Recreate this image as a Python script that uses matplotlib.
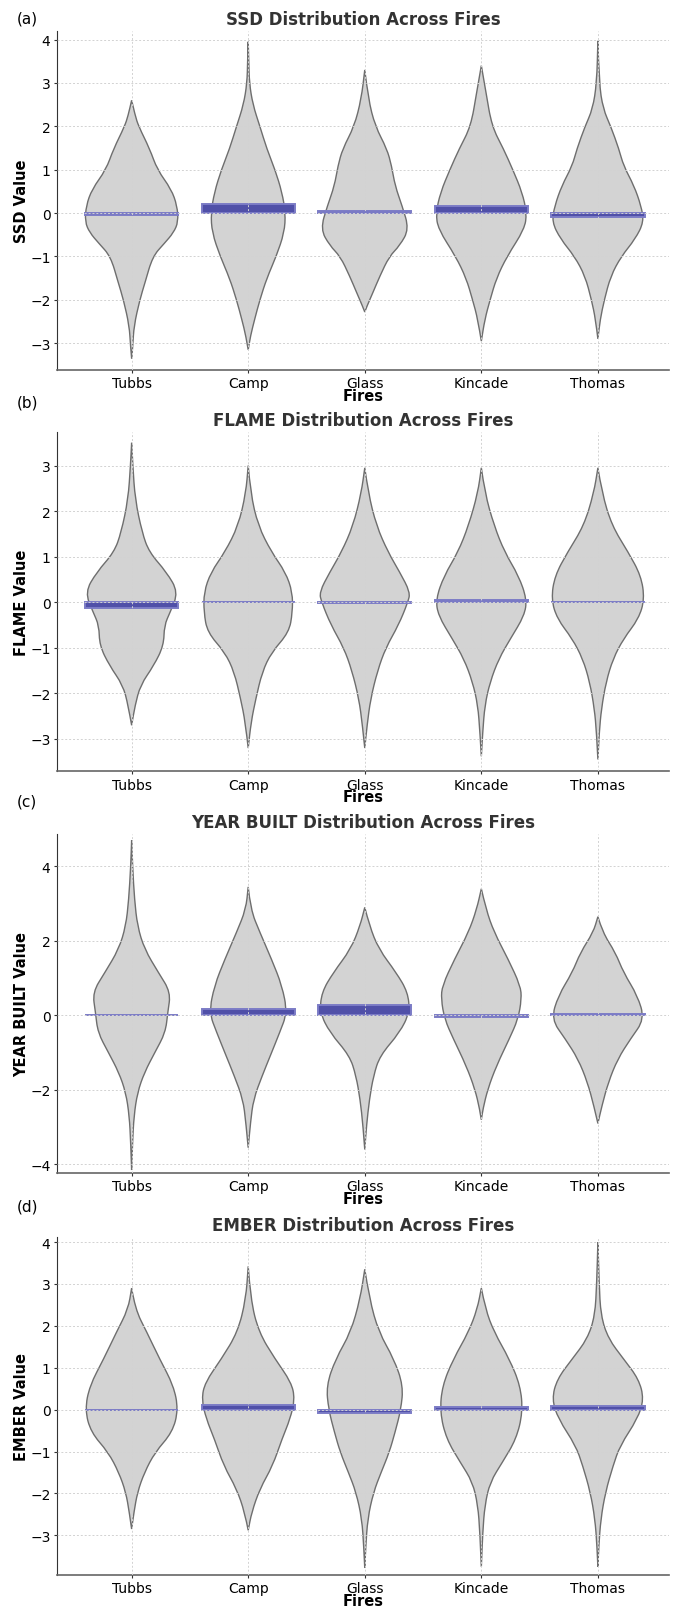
import numpy as np
import matplotlib
matplotlib.use("Agg")
import matplotlib.pyplot as plt
from matplotlib.path import Path
from matplotlib.patches import PathPatch

fires = ["Tubbs", "Camp", "Glass", "Kincade", "Thomas"]
features = ["SSD", "FLAME", "YEAR BUILT", "EMBER"]

# violin outlines: (value, half width) per fire
ssd_profiles = {
    "Tubbs": ([2.6, 2.25, 2.0, 1.48, 1.0, 0.55, 0.17, -0.2, -0.45, -0.7, -1.0, -1.6, -2.0, -2.6, -3.06, -3.35],
              [0, 0.03, 0.06, 0.155, 0.22, 0.34, 0.39, 0.40, 0.36, 0.28, 0.18, 0.115, 0.07, 0.02, 0.01, 0]),
    "Camp": ([3.95, 3.5, 3.0, 2.5, 2.0, 1.48, 1.0, 0.48, 0.0, -0.45, -1.0, -1.5, -2.0, -2.45, -2.83, -3.15],
             [0, 0.005, 0.01, 0.04, 0.10, 0.16, 0.23, 0.29, 0.32, 0.31, 0.24, 0.16, 0.10, 0.055, 0.02, 0]),
    "Glass": ([3.3, 2.63, 2.0, 1.48, 1.09, 0.63, 0.17, -0.37, -0.75, -1.0, -1.45, -1.83, -2.14, -2.28],
              [0, 0.03, 0.09, 0.19, 0.23, 0.26, 0.32, 0.38, 0.30, 0.21, 0.13, 0.07, 0.02, 0]),
    "Kincade": ([3.4, 2.78, 2.0, 1.48, 1.0, 0.48, 0.0, -0.37, -1.0, -1.5, -2.0, -2.45, -2.95],
                [0, 0.04, 0.09, 0.19, 0.27, 0.35, 0.39, 0.37, 0.22, 0.13, 0.075, 0.03, 0]),
    "Thomas": ([3.97, 3.0, 2.4, 2.0, 1.48, 1.09, 0.63, 0.17, -0.2, -0.6, -1.0, -1.45, -2.0, -2.45, -2.9],
               [0, 0.01, 0.045, 0.11, 0.18, 0.22, 0.31, 0.37, 0.395, 0.32, 0.2, 0.11, 0.055, 0.02, 0]),
}
flame_profiles = {
    "Tubbs": ([3.5, 3.0, 2.26, 1.53, 1.1, 0.66, 0.22, -0.22, -0.51, -0.95, -1.39, -1.82, -2.26, -2.7],
              [0, 0.01, 0.03, 0.09, 0.15, 0.30, 0.40, 0.33, 0.28, 0.275, 0.19, 0.075, 0.03, 0]),
    "Camp": ([3.0, 2.4, 1.68, 1.1, 0.66, 0.22, -0.22, -0.66, -1.1, -1.53, -2.12, -2.63, -3.2],
             [0, 0.02, 0.085, 0.2, 0.32, 0.38, 0.38, 0.35, 0.2, 0.12, 0.065, 0.025, 0]),
    "Glass": ([2.95, 2.4, 1.68, 1.1, 0.66, 0.22, 0.0, -0.5, -1.0, -1.5, -2.12, -2.7, -3.2],
              [0, 0.03, 0.10, 0.2, 0.30, 0.39, 0.37, 0.29, 0.18, 0.11, 0.05, 0.02, 0]),
    "Kincade": ([2.95, 2.4, 1.68, 1.1, 0.58, 0.07, -0.29, -0.8, -1.24, -1.75, -2.26, -2.85, -3.38],
                [0, 0.03, 0.11, 0.2, 0.32, 0.39, 0.37, 0.25, 0.15, 0.075, 0.03, 0.012, 0]),
    "Thomas": ([2.95, 2.4, 1.68, 1.1, 0.58, 0.07, -0.36, -0.8, -1.24, -1.75, -2.34, -2.85, -3.45],
               [0, 0.035, 0.12, 0.26, 0.37, 0.40, 0.35, 0.22, 0.13, 0.07, 0.03, 0.012, 0]),
}
year_profiles = {
    "Tubbs": ([4.7, 4.0, 3.1, 2.4, 1.78, 1.15, 0.62, 0.08, -0.46, -0.99, -1.53, -2.07, -2.7, -3.4, -4.15],
              [0, 0.008, 0.025, 0.05, 0.11, 0.23, 0.335, 0.31, 0.29, 0.2, 0.11, 0.05, 0.02, 0.008, 0]),
    "Camp": ([3.45, 2.85, 2.23, 1.51, 0.8, 0.08, -0.46, -1.08, -1.62, -2.25, -2.87, -3.55],
             [0, 0.02, 0.1, 0.2, 0.29, 0.335, 0.27, 0.19, 0.12, 0.045, 0.02, 0]),
    "Glass": ([2.9, 2.41, 1.78, 1.15, 0.62, 0.08, -0.46, -1.08, -1.62, -2.25, -2.96, -3.6],
              [0, 0.04, 0.12, 0.27, 0.37, 0.385, 0.3, 0.13, 0.075, 0.04, 0.015, 0]),
    "Kincade": ([3.4, 2.85, 2.23, 1.51, 0.8, 0.44, -0.1, -0.63, -1.35, -1.98, -2.5, -2.8],
                [0, 0.04, 0.11, 0.23, 0.335, 0.345, 0.315, 0.24, 0.13, 0.055, 0.015, 0]),
    "Thomas": ([2.65, 2.23, 1.69, 1.15, 0.53, -0.1, -0.63, -1.17, -1.79, -2.42, -2.9],
               [0, 0.04, 0.15, 0.22, 0.34, 0.40, 0.28, 0.17, 0.09, 0.035, 0]),
}
ember_profiles = {
    "Tubbs": ([2.9, 2.4, 1.85, 1.21, 0.57, 0.0, -0.54, -1.02, -1.5, -1.97, -2.45, -2.85],
              [0, 0.03, 0.13, 0.24, 0.36, 0.40, 0.35, 0.2, 0.11, 0.05, 0.02, 0]),
    "Camp": ([3.42, 2.64, 1.85, 1.21, 0.65, 0.25, -0.22, -0.7, -1.34, -1.89, -2.45, -2.88],
             [0, 0.02, 0.09, 0.23, 0.37, 0.40, 0.36, 0.29, 0.21, 0.10, 0.03, 0]),
    "Glass": ([3.35, 2.64, 1.85, 1.21, 0.57, 0.0, -0.54, -1.02, -1.5, -1.97, -2.6, -3.3, -3.78],
              [0, 0.04, 0.12, 0.25, 0.33, 0.31, 0.26, 0.21, 0.14, 0.075, 0.025, 0.008, 0]),
    "Kincade": ([2.9, 2.4, 1.85, 1.21, 0.57, -0.06, -0.7, -1.26, -1.73, -2.28, -2.93, -3.75],
                [0, 0.035, 0.11, 0.24, 0.335, 0.355, 0.30, 0.18, 0.075, 0.03, 0.012, 0]),
    "Thomas": ([4.0, 3.04, 2.24, 1.69, 1.21, 0.73, 0.25, -0.22, -0.86, -1.34, -1.97, -2.61, -3.25, -3.75],
               [0, 0.01, 0.025, 0.09, 0.22, 0.35, 0.395, 0.34, 0.19, 0.13, 0.065, 0.025, 0.008, 0]),
}

# mean bars
ssd_means = [-0.04, 0.22, 0.04, 0.16, -0.10]
flame_means = [-0.12, 0.01, -0.02, 0.05, 0.01]
year_means = [0.01, 0.16, 0.27, -0.03, 0.05]
ember_means = [0.0, 0.10, -0.09, 0.07, 0.09]

ylims = [(-3.61, 4.19), (-3.71, 3.73), (-4.23, 4.87), (-3.94, 4.12)]
panel_tags = ["(a)", "(b)", "(c)", "(d)"]
all_profiles = [ssd_profiles, flame_profiles, year_profiles, ember_profiles]
all_means = [ssd_means, flame_means, year_means, ember_means]


def smooth_chain(pts):
    # quadratic b-spline through an open chain, ends kept fixed
    verts = [pts[0], (pts[0] + pts[1]) / 2]
    codes = [Path.MOVETO, Path.LINETO]
    n = len(pts)
    for i in range(1, n - 1):
        end = (pts[i] + pts[i + 1]) / 2 if i < n - 2 else pts[n - 1]
        verts += [pts[i], end]
        codes += [Path.CURVE3, Path.CURVE3]
    return verts, codes


def violin_path(pos, ys, ws):
    ys = np.asarray(ys, float)
    ws = np.asarray(ws, float)
    order = np.argsort(ys)
    ys, ws = ys[order], ws[order]
    right = np.column_stack([pos + ws, ys])
    left = np.column_stack([pos - ws, ys])[::-1]
    v1, c1 = smooth_chain(right)
    v2, c2 = smooth_chain(left)
    c2[0] = Path.LINETO
    verts = v1 + v2 + [v1[0]]
    codes = c1 + c2 + [Path.CLOSEPOLY]
    return Path(np.array(verts), codes)


W, H = 676, 1608
fig = plt.figure(figsize=(W / 100, H / 100), dpi=100)

# axes boxes in pixels: top, bottom
boxes = [(32.3, 370.7), (433.3, 772.3), (835, 1174), (1238, 1575.7)]
tag_y = [19, 403, 802, 1207]
left_px, right_px = 56.8, 669

for k, feat in enumerate(features):
    top, bot = boxes[k]
    ax = fig.add_axes([left_px / W, 1 - bot / H, (right_px - left_px) / W, (bot - top) / H])
    profiles = all_profiles[k]

    for i, f in enumerate(fires):
        ys, ws = profiles[f]
        ax.add_patch(PathPatch(violin_path(i, ys, ws), facecolor="#d3d3d3",
                               edgecolor="#6e6e6e", linewidth=1.0, zorder=1))

    ax.bar(range(len(fires)), all_means[k], width=0.8, color="#5050a8",
           edgecolor="#7c7cc6", linewidth=1.4, zorder=2)

    ax.set_axisbelow(False)
    ax.grid(True, linestyle=(0, (2, 2)), color="#d2d2d2", linewidth=0.7)
    ax.set_xlim(-0.642, 4.61)
    ax.set_ylim(*ylims[k])
    ax.set_xticks(range(len(fires)))
    ax.set_xticklabels(fires, fontsize=10)
    ax.tick_params(axis="y", labelsize=10, length=2.5, pad=2, color="#333333")
    ax.tick_params(axis="x", length=2.5, pad=2, color="#333333")
    for s in ["top", "right"]:
        ax.spines[s].set_visible(False)
    ax.spines["left"].set_color("#333333")
    ax.spines["bottom"].set_color("#666666")
    ax.spines["bottom"].set_linewidth(1.2)

    ax.set_title(f"{feat} Distribution Across Fires", fontsize=12,
                 fontweight="bold", color="#333333", pad=5)
    ax.set_xlabel("Fires", fontsize=10.5, fontweight="bold", labelpad=-1.5)
    ax.set_ylabel(f"{feat} Value", fontsize=10.5, fontweight="bold", labelpad=1)
    fig.text(27 / W, 1 - tag_y[k] / H, panel_tags[k], fontsize=11,
             ha="center", va="center")

fig.savefig("out.png", dpi=100)
